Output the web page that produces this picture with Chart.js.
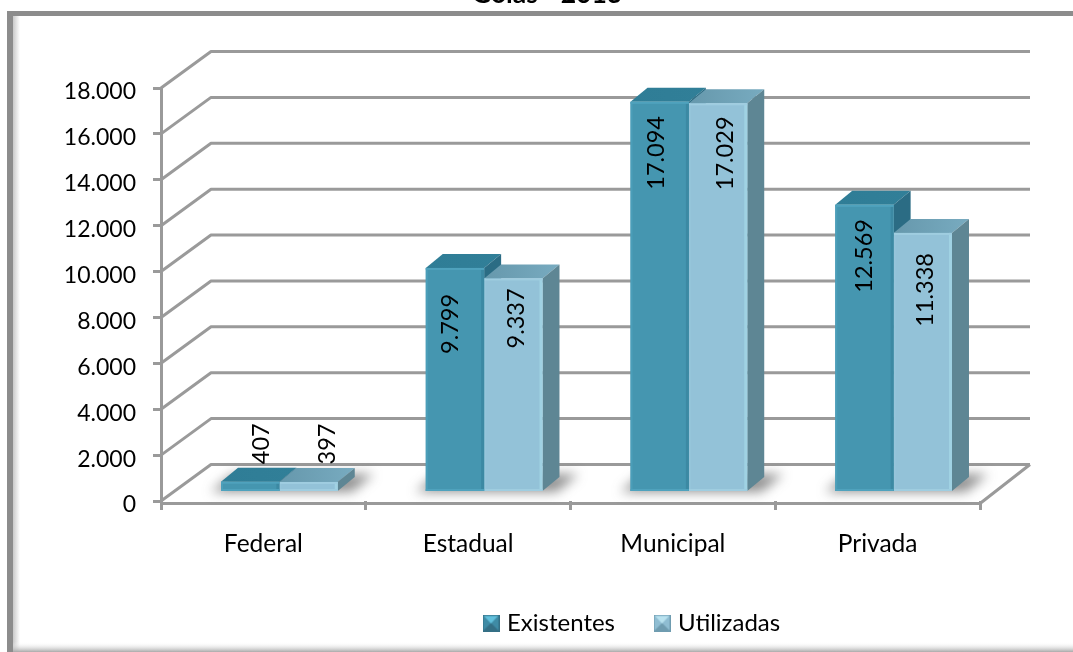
<!DOCTYPE html>
<html>
<head>
<meta charset="utf-8">
<style>html,body{margin:0;padding:0;background:#fff}canvas{display:block}#w{width:1073px;height:652px;position:relative}</style>
<script src="https://cdn.jsdelivr.net/npm/chart.js@4"></script>
</head>
<body>
<div id="w"><canvas id="c" width="1073" height="652"></canvas></div>
<script>
const chartTitle = 'Goiás - 2013';
const categories = ['Federal', 'Estadual', 'Municipal', 'Privada'];
const existentes = [407, 9799, 17094, 12569];
const utilizadas = [397, 9337, 17029, 11338];
const seriesNames = ['Existentes', 'Utilizadas'];

const FONT = 'Lato, Carlito, sans-serif';
const AXIS = '#9a9a9a';
const WALL = {dx: 50, dy: -36.5};
const BAR_SHIFT = {dx: 16, dy: -10};
const DEPTH = {dx: 17, dy: -14};
const SKINS = [
  {front: '#4596b0', left: '#4b9eb9', right: '#3c89a3', rim: '#4fa2bd', top: '#2f7d96', top2: '#317f98', side: '#2b6c84'},
  {front: '#93c2d8', left: '#96c5da', right: '#a0d2e3', rim: '#9fcde0', top: '#6698ac', top2: '#78abc0', side: '#5e8694'}
];
// label placement relative to each bar's centre and front top
const LABEL_NUDGE = [
  [[10, -38], [-6, 56], [-4, 51], [-1, 51]],
  [[18, -38], [2, 40], [6, 50], [2, 57]]
];
const fmt = v => String(v).replace(/\B(?=(\d{3})+$)/g, '.');

function marker(base, light, dark) {
  const c = document.createElement('canvas');
  c.width = 17; c.height = 17;
  const x = c.getContext('2d');
  x.fillStyle = base; x.fillRect(0, 0, 17, 17);
  x.fillStyle = dark;
  x.beginPath(); x.moveTo(0, 17); x.lineTo(17, 17); x.lineTo(8.5, 8.5); x.fill();
  x.fillStyle = light;
  x.beginPath(); x.moveTo(1.5, 1.5); x.lineTo(15.5, 1.5); x.lineTo(8.5, 9); x.fill();
  x.strokeStyle = dark; x.lineWidth = 1; x.strokeRect(.5, .5, 16, 16);
  return c;
}
const markers = [marker('#3f8ba5', '#62c0dc', '#346f85'), marker('#8fbdd2', '#b9e2ef', '#6f9cb0')];

function poly(ctx, pts, fill) {
  ctx.fillStyle = fill;
  ctx.beginPath();
  pts.forEach((p, i) => i ? ctx.lineTo(p[0], p[1]) : ctx.moveTo(p[0], p[1]));
  ctx.closePath();
  ctx.fill();
}

function drawDepth(ctx, bars, s) {
  bars.forEach(b => {
    const l = b.x - b.width / 2, r = b.x + b.width / 2;
    const g = ctx.createLinearGradient(l, 0, r + DEPTH.dx, 0);
    g.addColorStop(0, s.top); g.addColorStop(1, s.top2);
    poly(ctx, [[l, b.y], [r, b.y], [r + DEPTH.dx, b.y + DEPTH.dy], [l + DEPTH.dx, b.y + DEPTH.dy]], g);
    poly(ctx, [[r, b.y], [r + DEPTH.dx, b.y + DEPTH.dy], [r + DEPTH.dx, b.base + DEPTH.dy], [r, b.base]], s.side);
  });
}

const frame = {
  id: 'frame',
  beforeDraw(chart) {
    const ctx = chart.ctx;
    ctx.save();
    ctx.fillStyle = '#fff';
    ctx.fillRect(0, 0, 1073, 652);
    let g = ctx.createLinearGradient(13, 0, 20, 0);
    g.addColorStop(0, '#c9c9c9'); g.addColorStop(1, '#ffffff');
    ctx.fillStyle = g; ctx.fillRect(13, 16, 7, 636);
    g = ctx.createLinearGradient(0, 642, 0, 652);
    g.addColorStop(0, 'rgba(255,255,255,0)'); g.addColorStop(1, '#a9a9a9');
    ctx.fillStyle = g; ctx.fillRect(13, 642, 1060, 10);
    ctx.fillStyle = '#8c8c8c';
    ctx.fillRect(7, 11, 1066, 5);
    ctx.fillRect(7, 11, 6, 641);
    ctx.fillStyle = '#000';
    ctx.font = 'bold 26.5px ' + FONT;
    ctx.textAlign = 'center';
    ctx.textBaseline = 'alphabetic';
    ctx.fillText(chartTitle, 547, 3);
    ctx.restore();
  }
};

const scene = {
  id: 'scene',
  afterLayout(chart) {
    const l = chart.legend;
    l.left = 444; l.right = 1073; l.top = 568;
  },
  beforeDatasetsDraw(chart) {
    const ctx = chart.ctx, y = chart.scales.y, a = chart.chartArea;
    ctx.save();
    ctx.strokeStyle = AXIS;
    ctx.lineWidth = 3;
    ctx.lineJoin = 'round';
    y.ticks.forEach(t => {
      const py = y.getPixelForValue(t.value);
      ctx.beginPath();
      ctx.moveTo(a.left, py);
      ctx.lineTo(a.left + WALL.dx, py + WALL.dy);
      ctx.lineTo(a.right + WALL.dx, py + WALL.dy);
      ctx.stroke();
    });
    const fy = a.bottom + 2.5, by = y.getPixelForValue(0) + WALL.dy;
    ctx.beginPath();
    ctx.moveTo(a.left, fy);
    ctx.lineTo(a.right, fy);
    ctx.lineTo(a.right + WALL.dx, by);
    ctx.stroke();
    // floor shadows
    ctx.filter = 'blur(6px)';
    chart.getDatasetMeta(0).data.forEach((b0, i) => {
      const b1 = chart.getDatasetMeta(1).data[i];
      const l = b0.x - b0.width / 2 + BAR_SHIFT.dx, r = b1.x + b1.width / 2 + BAR_SHIFT.dx;
      const base = b0.base + BAR_SHIFT.dy;
      poly(ctx, [[l - 10, base + 1], [r + 14, base + 1], [r + 36, base - 17], [l + 12, base - 17]], 'rgba(70,70,70,.6)');
    });
    ctx.filter = 'none';
    ctx.restore();
  },
  beforeDatasetDraw(chart, args) {
    const ctx = chart.ctx;
    ctx.save();
    ctx.translate(BAR_SHIFT.dx, BAR_SHIFT.dy);
    // dataset 1 paints first: the left series' depth must lie beneath it
    if (args.index === 1) {
      drawDepth(ctx, chart.getDatasetMeta(0).data, SKINS[0]);
      drawDepth(ctx, args.meta.data, SKINS[1]);
    }
  },
  afterDatasetDraw(chart, args) {
    const ctx = chart.ctx, s = SKINS[args.index];
    args.meta.data.forEach(b => {
      const l = b.x - b.width / 2, r = b.x + b.width / 2, h = b.base - b.y;
      ctx.fillStyle = s.left; ctx.fillRect(l, b.y, 2, h);
      ctx.fillStyle = s.right; ctx.fillRect(r - 3, b.y, 3, h);
      ctx.fillStyle = s.rim; ctx.fillRect(l, b.y, b.width, Math.min(2, h));
      ctx.fillRect(l, b.base - 2, b.width, 2);
    });
    ctx.restore();
  },
  afterDatasetsDraw(chart) {
    const ctx = chart.ctx;
    ctx.save();
    ctx.fillStyle = '#000';
    ctx.font = '23.5px ' + FONT;
    ctx.textAlign = 'center';
    ctx.textBaseline = 'middle';
    [existentes, utilizadas].forEach((vals, d) => {
      const bars = chart.getDatasetMeta(d).data;
      vals.forEach((v, i) => {
        const b = bars[i], n = LABEL_NUDGE[d][i];
        ctx.save();
        ctx.translate(b.x + BAR_SHIFT.dx + n[0], b.y + BAR_SHIFT.dy + n[1]);
        ctx.rotate(-Math.PI / 2);
        ctx.fillText(fmt(v), 0, 1);
        ctx.restore();
      });
    });
    ctx.restore();
  }
};

new Chart(document.getElementById('c'), {
  type: 'bar',
  plugins: [frame, scene],
  data: {
    labels: categories,
    datasets: [
      {label: seriesNames[0], data: existentes, yAxisID: 'yBars', clip: false,
       backgroundColor: SKINS[0].front, borderWidth: 0, categoryPercentage: .57, barPercentage: 1},
      {label: seriesNames[1], data: utilizadas, yAxisID: 'yBars', clip: false,
       backgroundColor: SKINS[1].front, borderWidth: 0, categoryPercentage: .57, barPercentage: 1}
    ]
  },
  options: {
    responsive: false,
    animation: false,
    layout: {padding: {left: 61, right: 93, top: 88, bottom: 0}},
    scales: {
      x: {
        grid: {offset: true, drawOnChartArea: false, color: AXIS, lineWidth: 3, tickLength: 9},
        border: {display: false},
        ticks: {color: '#000', font: {family: FONT, size: 24.5}, padding: 19, maxRotation: 0},
        afterFit: s => { s.height = 111; }
      },
      y: {
        min: 0, max: 18000,
        grid: {drawOnChartArea: false, color: AXIS, lineWidth: 3, tickLength: 8},
        border: {color: AXIS, width: 3},
        ticks: {stepSize: 2000, color: '#000', font: {family: FONT, size: 23}, padding: 17, labelOffset: 4, callback: fmt},
        afterFit: s => { s.width = 100; }
      },
      yBars: {display: false, min: 0, max: 18142}
    },
    plugins: {
      title: {display: false},
      tooltip: {enabled: false},
      legend: {
        display: true,
        position: 'bottom',
        align: 'start',
        maxHeight: 40,
        labels: {
          color: '#000',
          font: {family: FONT, size: 24},
          boxWidth: 17,
          boxHeight: 17,
          usePointStyle: true,
          pointStyleWidth: 8,
          padding: 43,
          generateLabels: () => seriesNames.map((n, i) => ({
            text: n, pointStyle: markers[i], fillStyle: SKINS[i].front, lineWidth: 0,
            strokeStyle: 'transparent', datasetIndex: i, fontColor: '#000'
          }))
        }
      }
    }
  }
});
</script>
</body>
</html>
